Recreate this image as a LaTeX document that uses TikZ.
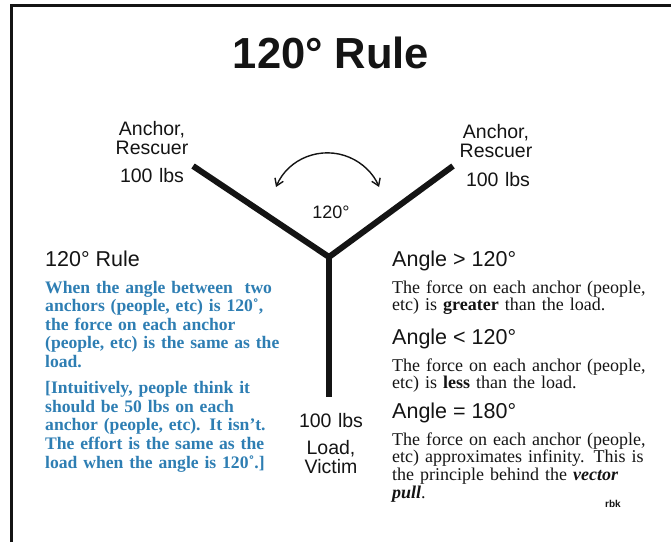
\documentclass[tikz,border=0pt]{standalone}
\usepackage{fontspec}
\setmainfont{Liberation Serif}
\setsansfont{Liberation Sans}
\usepackage{xcolor}
\usepackage{tikz}
\usetikzlibrary{arrows.meta,positioning}
\definecolor{inkx}{HTML}{141414}
\definecolor{bluex}{HTML}{2E7EB3}
\tikzset{
  arm/.style={line width=6pt,inkx},
  sw/.style={{Straight Barb[length=2.4mm,width=3.2mm]}-{Straight Barb[length=2.4mm,width=3.2mm]},line width=1.4pt,inkx},
  lbl/.style={font=\sffamily\fontsize{19.5}{19.5}\selectfont,align=center,text width=110pt,anchor=base,inner sep=0pt,inkx},
  hd/.style={font=\sffamily\fontsize{21.5}{24}\selectfont,anchor=base west,inner sep=0pt,inkx},
  bl/.style={font=\bfseries\fontsize{17.6}{18.6}\selectfont,align=left,text width=260pt,anchor=base west,inner sep=0pt,bluex},
  tx/.style={font=\fontsize{18}{17.8}\selectfont,align=left,text width=275pt,anchor=base west,inner sep=0pt,inkx}
}
\begin{document}
\lineskiplimit=-50pt
\begin{tikzpicture}[x=1pt,y=-1pt]
\useasboundingbox (0,0) rectangle (671,542);
\draw[line width=3pt,inkx] (11,542) -- (11,5) -- (671,5);
\node[font=\sffamily\bfseries\fontsize{43.5}{48}\selectfont,anchor=base,inner sep=0pt,inkx] (title) at (331,68) {120° Rule};
\coordinate (hub) at (329,257);
\coordinate (la) at (193,166);
\coordinate (ra) at (453,166);
\coordinate (ld) at (329,397);
\draw[arm] (la) -- (hub) -- (ra);
\draw[arm] (hub) -- (ld);
\coordinate (swl) at (276,187);
\draw[sw] (swl) arc[start angle=-157,end angle=-23,radius=56];
\node[lbl] (anchorL) at (152,135) {Anchor,\\Rescuer};
\node[lbl] (wtL) at (152,182) {100 lbs};
\node[lbl] (anchorR) at (496,138) {Anchor,\\Rescuer};
\node[lbl] (wtR) at (498,186) {100 lbs};
\node[lbl,font=\sffamily\fontsize{18}{20}\selectfont] (ang) at (331,218) {120°};
\node[lbl] (wtD) at (331,427) {100 lbs};
\node[lbl] (load) at (331,454) {Load,\\Victim};
\node[hd] (ruleH) at (45,266) {120° Rule};
\node[bl] (ruleT) at (45,293) {When the angle between~ two\\anchors (people, etc) is 120˚,\\the force on each anchor\\(people, etc) is the same as the\\load.\\[7.7pt][Intuitively, people think it\\should be 50 lbs on each\\anchor (people, etc). It isn’t.\\The effort is the same as the\\load when the angle is 120˚.]};
\node[hd] (gtH) at (392,266) {Angle > 120°};
\node[tx] (gtT) at (392,293) {The force on each anchor (people,\\etc) is \textbf{greater} than the load.};
\node[hd] (ltH) at (392,344) {Angle < 120°};
\node[tx] (ltT) at (392,371) {The force on each anchor (people,\\etc) is \textbf{less} than the load.};
\node[hd] (eqH) at (392,418) {Angle = 180°};
\node[tx] (eqT) at (392,445) {The force on each anchor (people,\\etc) approximates infinity. This is\\the principle behind the \textbf{\textit{vector}}\\\textbf{\textit{pull}}.};
\node[font=\sffamily\bfseries\fontsize{10}{12}\selectfont,anchor=base west,inner sep=0pt,inkx] (sig) at (605,507) {rbk};
\end{tikzpicture}
\end{document}
